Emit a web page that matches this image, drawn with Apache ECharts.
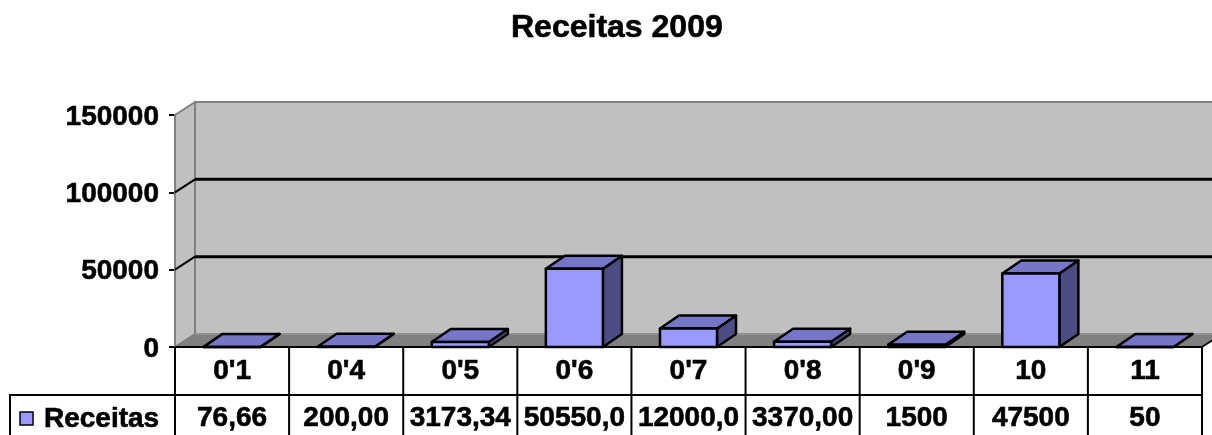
<!DOCTYPE html>
<html>
<head>
<meta charset="utf-8">
<script src="https://cdn.jsdelivr.net/npm/echarts@6/dist/echarts.min.js"></script>
<style>
html,body{margin:0;padding:0;background:#fff;}
#chart{width:1212px;height:435px;}
</style>
</head>
<body>
<div id="chart"></div>
<script>
var categories = ["0'1", "0'4", "0'5", "0'6", "0'7", "0'8", "0'9", "10", "11"];
var values = [76.66, 200, 3173.34, 50550, 12000, 3370, 1500, 47500, 50];
var tableLabels = ["76,66", "200,00", "3173,34", "50550,0", "12000,0", "3370,00", "1500", "47500", "50"];
var yTicks = [0, 50000, 100000, 150000];
var seriesName = "Receitas";

var FONT = '"Liberation Sans", Arial, sans-serif';
var TXT_FONT = 'bold 28px ' + FONT;
var WALL_DX = 20, WALL_DY = -13;
var BAR_DX = 19, BAR_DY = -13;
var ROW_H = 48;

var chart = echarts.init(document.getElementById('chart'));

var pairs = values.map(function (v, i) { return [i, v]; });

function label(x, y, text, align) {
  return {type: 'text', x: x, y: y,
    style: {x: 0, y: 0, text: text, font: TXT_FONT, fill: '#000', stroke: '#000', lineWidth: 0.6,
      align: align, verticalAlign: 'middle', textAlign: align, textVerticalAlign: 'middle'}};
}

function renderWalls(params, api) {
  var cs = params.coordSys;
  var x0 = cs.x, x1 = cs.x + cs.width;
  var yb = api.coord([0, yTicks[0]])[1];
  var yt = api.coord([0, yTicks[yTicks.length - 1]])[1];
  var ch = [];
  ch.push({type: 'polygon', shape: {points: [[x0 + WALL_DX, yt + WALL_DY], [x1 + WALL_DX, yt + WALL_DY], [x1 + WALL_DX, yb + WALL_DY], [x0 + WALL_DX, yb + WALL_DY]]},
    style: {fill: '#C0C0C0', stroke: '#808080', lineWidth: 2}});
  ch.push({type: 'polygon', shape: {points: [[x0, yt], [x0 + WALL_DX, yt + WALL_DY], [x0 + WALL_DX, yb + WALL_DY], [x0, yb]]},
    style: {fill: '#C0C0C0', stroke: '#808080', lineWidth: 2}});
  ch.push({type: 'polygon', shape: {points: [[x0, yb], [x0 + WALL_DX, yb + WALL_DY], [x1 + WALL_DX, yb + WALL_DY], [x1, yb]]},
    style: {fill: '#808080', stroke: '#808080', lineWidth: 1}});
  ch.push({type: 'line', shape: {x1: x0 + WALL_DX, y1: yb + WALL_DY, x2: x1 + WALL_DX, y2: yb + WALL_DY}, style: {stroke: '#A0A0A0', lineWidth: 1}});
  for (var k = 0; k < yTicks.length; k++) {
    var y = api.coord([0, yTicks[k]])[1];
    if (k > 0 && k < yTicks.length - 1) {
      ch.push({type: 'line', shape: {x1: x0 + WALL_DX, y1: y + WALL_DY, x2: x1 + WALL_DX, y2: y + WALL_DY}, style: {stroke: '#000', lineWidth: 3}});
      ch.push({type: 'line', shape: {x1: x0, y1: y, x2: x0 + WALL_DX, y2: y + WALL_DY}, style: {stroke: '#000', lineWidth: 2}});
    }
    ch.push(label(x0 - 16, y + 2, String(yTicks[k]), 'right'));
  }
  ch.push({type: 'line', shape: {x1: x0, y1: yb, x2: x1, y2: yb}, style: {stroke: '#000', lineWidth: 2}});
  ch.push({type: 'line', shape: {x1: x1, y1: yb, x2: x1 + WALL_DX, y2: yb + WALL_DY}, style: {stroke: '#000', lineWidth: 1.5}});
  return {type: 'group', children: ch};
}

function renderBar(params, api) {
  var i = api.value(0), v = api.value(1);
  var base = api.coord([i, 0]);
  var top = api.coord([i, v]);
  var w = api.size([1, 0])[0] * 0.5;
  var xl = base[0] - w / 2, xr = base[0] + w / 2, yb = base[1], yt = top[1];
  var st = {stroke: '#000', lineWidth: 2.5, lineJoin: 'round'};
  return {type: 'group', children: [
    {type: 'polygon', shape: {points: [[xr, yb], [xr + BAR_DX, yb + BAR_DY], [xr + BAR_DX, yt + BAR_DY], [xr, yt]]},
      style: Object.assign({fill: '#4D4D86'}, st)},
    {type: 'polygon', shape: {points: [[xl, yt], [xr, yt], [xr + BAR_DX, yt + BAR_DY], [xl + BAR_DX, yt + BAR_DY]]},
      style: Object.assign({fill: '#7676C8'}, st)},
    {type: 'polygon', shape: {points: [[xl, yb], [xr, yb], [xr, yt], [xl, yt]]},
      style: Object.assign({fill: '#9999FF'}, st)}
  ]};
}

function renderTable(params, api) {
  var i = api.value(0);
  var c = api.coord([i, 0]);
  var w = api.size([1, 0])[0];
  var xl = c[0] - w / 2, xr = c[0] + w / 2, y0 = c[1];
  return {type: 'group', children: [
    {type: 'line', shape: {x1: xr, y1: y0, x2: xr, y2: y0 + 2 * ROW_H + 10}, style: {stroke: '#000', lineWidth: 2}},
    {type: 'line', shape: {x1: xl, y1: y0 + ROW_H, x2: xr, y2: y0 + ROW_H}, style: {stroke: '#000', lineWidth: 2}},
    label(c[0], y0 + ROW_H / 2, categories[i], 'center'),
    label(c[0], y0 + ROW_H + 23, tableLabels[i], 'center')
  ]};
}

var option = {
  animation: false,
  backgroundColor: '#fff',
  title: {
    text: 'Receitas 2009', left: 506, top: 7,
    textStyle: {fontFamily: FONT, fontWeight: 'bold', fontSize: 32, color: '#000', textBorderColor: '#000', textBorderWidth: 0.6}
  },
  grid: {left: 175, right: 10, top: 115, bottom: 88, containLabel: false},
  xAxis: {type: 'category', data: categories, show: false, boundaryGap: true},
  yAxis: {
    type: 'value', min: 0, max: 150000, interval: 50000,
    axisLine: {show: true, lineStyle: {color: '#000', width: 2}},
    axisTick: {show: true, length: 6, lineStyle: {color: '#000', width: 2}},
    axisLabel: {show: false},
    splitLine: {show: false}
  },
  graphic: [
    {type: 'line', shape: {x1: 175, y1: 347, x2: 175, y2: 445}, style: {stroke: '#000', lineWidth: 2}, z: 100},
    {type: 'rect', shape: {x: 10, y: 395, width: 165, height: 60}, style: {fill: 'none', stroke: '#000', lineWidth: 2}, z: 100},
    {type: 'rect', shape: {x: 20, y: 412, width: 13, height: 13}, style: {fill: '#9999FF', stroke: '#000', lineWidth: 1.5}, z: 100},
    {type: 'text', x: 44, y: 419, style: {x: 0, y: 0, text: seriesName, font: TXT_FONT, fill: '#000', stroke: '#000', lineWidth: 0.6, textVerticalAlign: 'middle', verticalAlign: 'middle'}, z: 100}
  ],
  series: [
    {type: 'custom', name: 'walls', data: [[0, 0]], renderItem: renderWalls, z: 1, silent: true},
    {type: 'custom', name: seriesName, data: pairs, renderItem: renderBar, z: 3, encode: {x: 0, y: 1}},
    {type: 'custom', name: 'table', data: pairs, renderItem: renderTable, z: 5, encode: {x: 0, y: 1}, silent: true}
  ]
};
chart.setOption(option);
</script>
</body>
</html>
